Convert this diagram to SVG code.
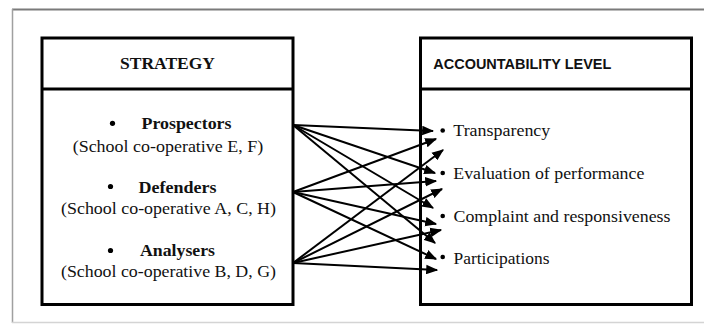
<svg xmlns="http://www.w3.org/2000/svg" width="704" height="324" viewBox="0 0 704 324">
  <style>
    .box { fill: #ffffff; stroke: #000000; stroke-width: 3; }
    .divider { stroke: #000000; stroke-width: 3; }
    .head-serif { font-family: "Liberation Serif", "Times New Roman", serif; font-weight: bold; font-size: 17px; fill: #111111; }
    .head-sans { font-family: "Liberation Sans", Arial, sans-serif; font-weight: bold; font-size: 14.5px; fill: #111111; }
    .name { font-family: "Liberation Serif", "Times New Roman", serif; font-weight: bold; font-size: 17px; fill: #111111; }
    .sub { font-family: "Liberation Serif", "Times New Roman", serif; font-size: 17px; fill: #111111; }
    .item { font-family: "Liberation Serif", "Times New Roman", serif; font-size: 16.5px; fill: #111111; }
    .dot { fill: #000000; }
    .link { stroke: #000000; stroke-width: 2; fill: none; marker-end: url(#arrow); }
  </style>
  <defs>
    <marker id="arrow" viewBox="0 0 10 8" refX="9" refY="4" markerWidth="12" markerHeight="10" markerUnits="userSpaceOnUse" orient="auto">
      <path d="M0,0 L10,4 L0,8 z" fill="#000000"/>
    </marker>
  </defs>

  <rect x="0" y="0" width="704" height="324" fill="#ffffff"/>

  <!-- outer frame -->
  <g id="frame">
    <line x1="12" y1="9.5" x2="704" y2="9.5" stroke="#7a7a7a" stroke-width="2"/>
    <line x1="12.5" y1="9" x2="12.5" y2="323" stroke="#a0a0a0" stroke-width="1.5"/>
    <line x1="12" y1="322.5" x2="704" y2="322.5" stroke="#d4d4d4" stroke-width="1.5"/>
  </g>

  <!-- strategy box -->
  <g id="strategy">
    <rect class="box" x="42" y="38" width="251" height="266.5"/>
    <line class="divider" x1="42" y1="89" x2="293" y2="89"/>
    <text class="head-serif" x="120" y="69" textLength="95" lengthAdjust="spacingAndGlyphs">STRATEGY</text>

    <g id="prospectors">
      <circle class="dot" cx="112.5" cy="123.3" r="2.6"/>
      <text class="name" x="141.5" y="128.5" textLength="90" lengthAdjust="spacingAndGlyphs">Prospectors</text>
      <text class="sub" x="72.7" y="151.5" textLength="190.5" lengthAdjust="spacingAndGlyphs">(School co-operative E, F)</text>
    </g>
    <g id="defenders">
      <circle class="dot" cx="110.5" cy="186.5" r="2.6"/>
      <text class="name" x="138.5" y="192.5" textLength="78" lengthAdjust="spacingAndGlyphs">Defenders</text>
      <text class="sub" x="61" y="214" textLength="215" lengthAdjust="spacingAndGlyphs">(School co-operative A, C, H)</text>
    </g>
    <g id="analysers">
      <circle class="dot" cx="110.5" cy="250.5" r="2.6"/>
      <text class="name" x="140" y="256" textLength="75" lengthAdjust="spacingAndGlyphs">Analysers</text>
      <text class="sub" x="61" y="277" textLength="215" lengthAdjust="spacingAndGlyphs">(School co-operative B, D, G)</text>
    </g>
  </g>

  <!-- accountability box -->
  <g id="accountability">
    <rect class="box" x="420.5" y="38" width="271" height="266.5"/>
    <line class="divider" x1="420.5" y1="89" x2="691.5" y2="89"/>
    <text class="head-sans" x="433.3" y="69" textLength="178" lengthAdjust="spacingAndGlyphs">ACCOUNTABILITY LEVEL</text>

    <g id="transparency">
      <circle class="dot" cx="442.7" cy="130.5" r="2.3"/>
      <text class="item" x="453.3" y="136" textLength="97" lengthAdjust="spacingAndGlyphs">Transparency</text>
    </g>
    <g id="evaluation">
      <circle class="dot" cx="442.7" cy="173" r="2.3"/>
      <text class="item" x="453.3" y="178.5" textLength="191" lengthAdjust="spacingAndGlyphs">Evaluation of performance</text>
    </g>
    <g id="complaint">
      <circle class="dot" cx="442.7" cy="216" r="2.3"/>
      <text class="item" x="453.5" y="221.5" textLength="217" lengthAdjust="spacingAndGlyphs">Complaint and responsiveness</text>
    </g>
    <g id="participations">
      <circle class="dot" cx="442.7" cy="257" r="2.3"/>
      <text class="item" x="453.5" y="263.5" textLength="96" lengthAdjust="spacingAndGlyphs">Participations</text>
    </g>
  </g>

  <!-- every strategy links to every accountability item -->
  <g id="connectors">
    <line class="link" x1="293" y1="125" x2="433" y2="131"/>
    <line class="link" x1="293" y1="125" x2="435" y2="173"/>
    <line class="link" x1="293" y1="125" x2="433" y2="208"/>
    <line class="link" x1="293" y1="125" x2="435" y2="243"/>

    <line class="link" x1="293" y1="192" x2="436" y2="139"/>
    <line class="link" x1="293" y1="192" x2="436" y2="181"/>
    <line class="link" x1="293" y1="192" x2="436" y2="224"/>
    <line class="link" x1="293" y1="192" x2="436" y2="259"/>

    <line class="link" x1="293" y1="263" x2="443" y2="150"/>
    <line class="link" x1="293" y1="263" x2="442" y2="189"/>
    <line class="link" x1="293" y1="263" x2="441" y2="230"/>
    <line class="link" x1="293" y1="263" x2="437" y2="270"/>
  </g>
</svg>
